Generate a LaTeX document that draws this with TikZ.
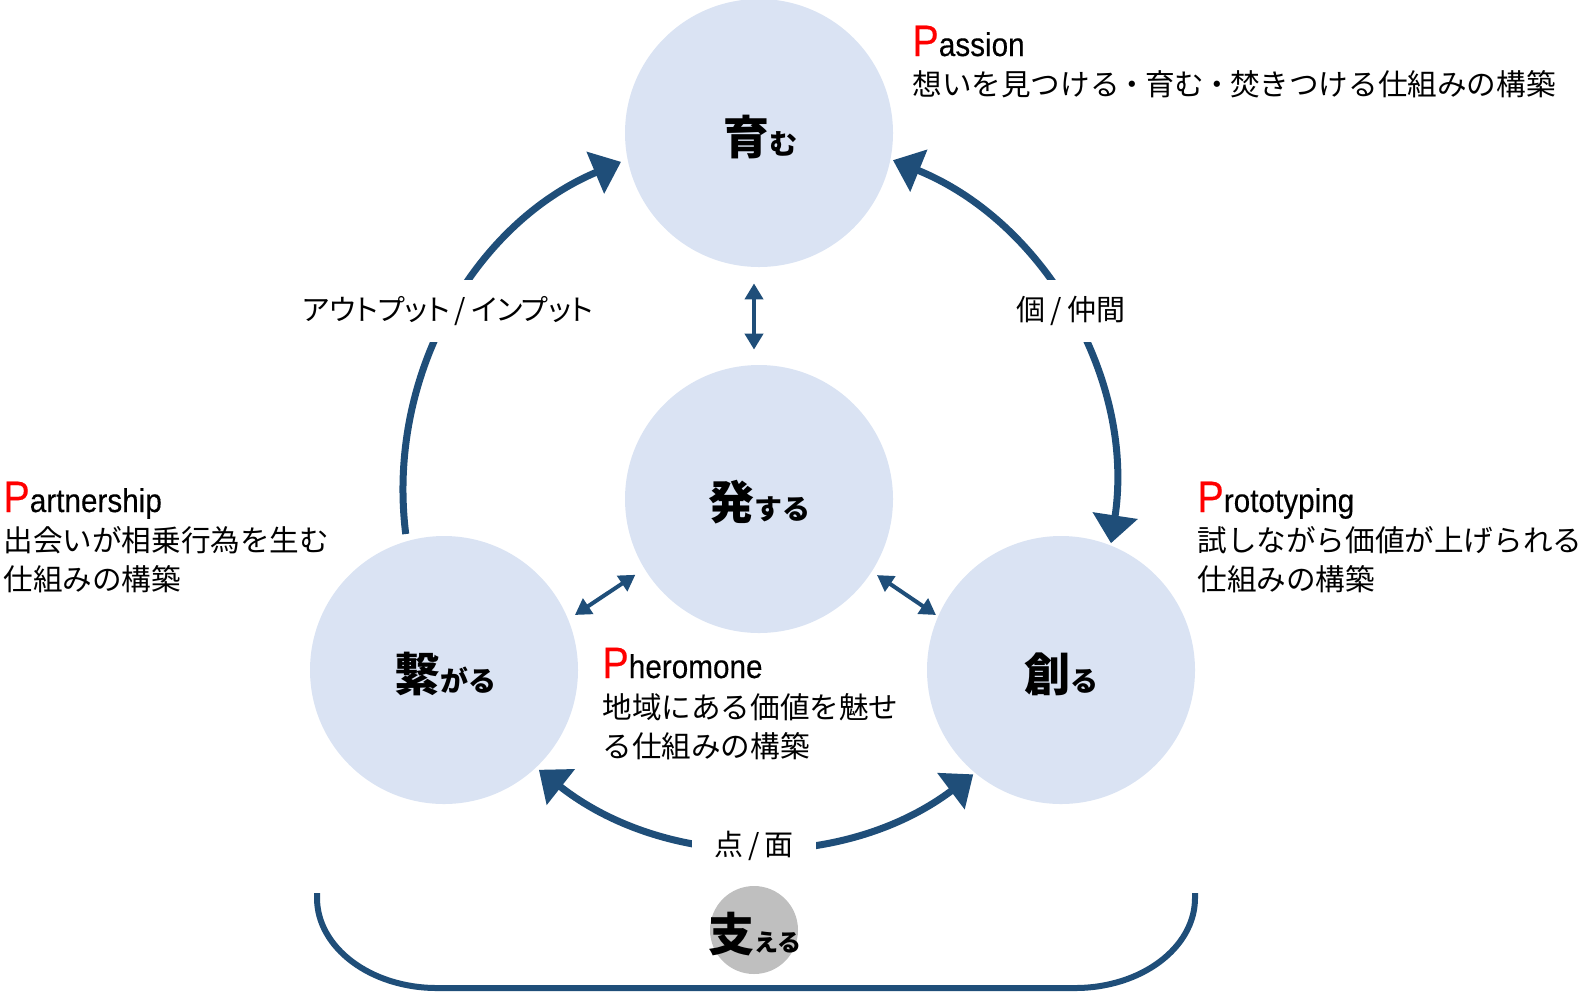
\documentclass[tikz,border=0pt]{standalone}
\usepackage{fontspec}
\setmainfont{Noto Sans CJK JP}
\newfontfamily\kanaprop[CharacterWidth=AlternateProportional]{Noto Sans CJK JP}
\newfontfamily\latinfont[FakeStretch=0.9,FakeBold=0.3]{Liberation Sans}
\usetikzlibrary{arrows.meta}
\definecolor{bubblefill}{RGB}{218,227,243}
\definecolor{arrowblue}{RGB}{31,78,121}
\definecolor{supportgray}{RGB}{191,191,191}
\definecolor{pred}{RGB}{255,0,0}
\newcommand{\redP}{{\fontsize{22}{22}\selectfont\color{pred}P}}
\newcommand{\bigk}[1]{{\fontsize{23}{23}\selectfont #1}}
\newcommand{\smallk}[1]{{\fontsize{14}{14}\selectfont #1}}
\newcommand{\slashsep}{\hspace{2.5pt}/\hspace{2.5pt}}
\newcommand{\middot}{\hspace{-1pt}・\hspace{-1pt}}
\tikzset{
  BigHead/.tip={Triangle[width=22pt,length=14pt]},
  SmallHead/.tip={Triangle[width=9pt,length=8pt]},
  bubble/.style={circle, fill=bubblefill, minimum size=134pt, inner sep=0pt},
  supportdisc/.style={circle, fill=supportgray, minimum size=44pt, inner sep=0pt},
  title/.style={font=\bfseries, inner sep=0pt, anchor=center},
  desc/.style={anchor=base west, inner sep=0pt, font=\fontsize{14.8}{18}\selectfont},
  latin/.style={anchor=base west, inner sep=0pt, font=\latinfont\fontsize{16.5}{18}\selectfont},
  flow/.style={draw=arrowblue, line width=3.5pt},
  smallarrow/.style={draw=arrowblue, line width=2pt, {SmallHead}-{SmallHead}},
  arclabel/.style={fill=white, inner xsep=11pt, inner ysep=8pt, font=\fontsize{14.5}{14.5}\selectfont},
  bracketline/.style={draw=arrowblue, line width=3pt}
}
\begin{document}
\begin{tikzpicture}[x=0.5pt,y=0.5pt]
\useasboundingbox (0,0) rectangle (1583,-992);

% circles
\node[bubble] (ikumu) at (759,-133) {};
\node[bubble] (hatsu) at (759,-499) {};
\node[bubble] (tsunagaru) at (444,-670) {};
\node[bubble] (tsukuru) at (1061,-670) {};
\node[supportdisc] (sasaeru) at (754,-930) {};

% circle titles
\node[title] (t-ikumu) at (760,-137.5) {\bigk{育}\smallk{む}};
\node[title] (t-hatsu) at (759,-502) {\bigk{発}\smallk{する}};
\node[title] (t-tsunagaru) at (445,-674) {\bigk{繋}\smallk{がる}};
\node[title] (t-tsukuru) at (1061,-674) {\bigk{創}\smallk{る}};
\node[title] (t-sasaeru) at (755,-934) {\bigk{支}{\fontsize{12}{12}\selectfont える}};

% big arcs
\coordinate (arcc) at (759,-490);
\draw[flow, -{BigHead}] ([shift={(187.1:178pt)}]arcc) arc[start angle=187.1, end angle=112.8, radius=178pt];
\draw[flow, {BigHead}-{BigHead}] ([shift={(67.9:178pt)}]arcc) arc[start angle=67.9, end angle=-8.6, radius=178pt];
\draw[flow, {BigHead}-{BigHead}] ([shift={(231.8:178pt)}]arcc) arc[start angle=231.8, end angle=307, radius=178pt];

% arc labels
\node[arclabel] (l-io) at (448,-311) {\kanaprop アウトプット\slashsep インプット};
\node[arclabel] (l-ko) at (1071,-311) {個\slashsep 仲間};
\node[arclabel] (l-ten) at (754,-846) {点\slashsep 面};

% small arrows
\draw[smallarrow, shorten <=8pt, shorten >=7.5pt] ([xshift=-2.5pt]ikumu.south) -- ([xshift=-2.5pt]hatsu.north);
\draw[smallarrow] ([shift={(211.5:72.5pt)}]hatsu.center) -- ([shift={(22.8:71pt)}]tsunagaru.center);
\draw[smallarrow] ([shift={(-32.8:70.2pt)}]hatsu.center) -- ([shift={(156.25:68.3pt)}]tsukuru.center);

% bracket
\draw[bracketline] (317,-893) -- (317,-898) arc[start angle=180, end angle=270, x radius=60pt, y radius=45pt]
  -- (1075,-988) arc[start angle=270, end angle=360, x radius=60pt, y radius=45pt] -- (1195,-893);

% descriptions
\node[latin] (passion-en) at (912,-56) {\redP assion};
\node[desc] (passion-jp) at (912,-95) {想いを見つける\middot 育む\middot 焚きつける仕組みの構築};

\node[latin] (partner-en) at (3,-512) {\redP artnership};
\node[desc] (partner-jp1) at (3,-551) {出会いが相乗行為を生む};
\node[desc] (partner-jp2) at (3,-590) {仕組みの構築};

\node[latin] (proto-en) at (1197,-512) {\redP rototyping};
\node[desc] (proto-jp1) at (1197,-551) {試しながら価値が上げられる};
\node[desc] (proto-jp2) at (1197,-590) {仕組みの構築};

\node[latin] (phero-en) at (602,-678) {\redP heromone};
\node[desc] (phero-jp1) at (602,-718) {地域にある価値を魅せ};
\node[desc] (phero-jp2) at (602,-757) {る仕組みの構築};
\end{tikzpicture}
\end{document}
